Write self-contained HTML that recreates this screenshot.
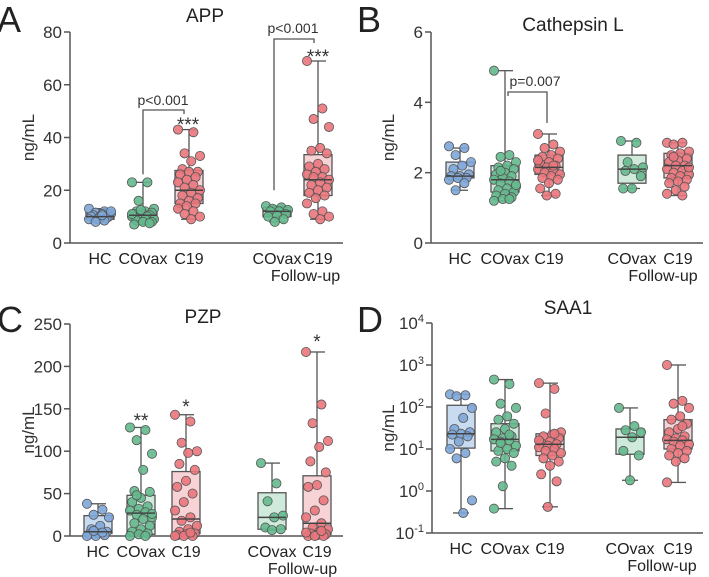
<!DOCTYPE html>
<html><head><meta charset="utf-8">
<style>
html,body{margin:0;padding:0;background:#fff;}
svg{display:block;font-family:"Liberation Sans",Arial,sans-serif;}
</style></head>
<body>
<svg id="fig" width="709" height="577" viewBox="0 0 709 577" xmlns="http://www.w3.org/2000/svg"></svg>
<script>
// ===== Data =====
const categories = ["HC","COvax","C19","COvax","C19"];
const groupColors = ["blue","green","red","green","red"];
// box stats per group: [min, q1, median, q3, max]
const appBoxes = [[8,9,10,11.5,13],[7,9,10.5,12,23],[9,15,20,27.5,43],[8,10,12,13.5,14],[9,18,24,33.5,69]];
const appPoints = [
 [13,12,11.5,11,11,10.5,10,10,10,9.5,9,9,8.5,8,12,10.5],
 [23,23,16,13,12,12,11.5,11,11,10.5,10.5,10,10,9.5,9,9,8.5,8,8,7,7.5,12.5,11],
 [43,42,34,33,31,28,27,27,26,25,24,23,22,21,20,19,18,17,16,15,15,14,13,12,11,10,9],
 [14,13.5,13,12.5,12,12,11,10.5,10,9,8],
 [69,51,47,44,36,35,34,30,29,28,27,26,25,25,24,23,22,21,20,19,18,17,15,12,11,10,9]
];
const catBoxes = [[1.5,1.85,1.9,2.3,2.7],[1.2,1.45,1.8,2.2,4.9],[1.35,1.95,2.15,2.5,3.1],[1.55,1.7,2.1,2.5,2.9],[1.35,1.85,2.2,2.55,2.85]];
const catPoints = [
 [2.75,2.7,2.5,2.3,2.2,2.1,1.95,1.9,1.9,1.85,1.85,1.8,1.7,1.5],
 [4.9,2.5,2.45,2.3,2.2,2.15,2.1,2.0,1.95,1.9,1.85,1.8,1.75,1.7,1.6,1.55,1.5,1.45,1.4,1.35,1.3,1.25,1.2,1.25,2.05,1.65],
 [3.1,2.8,2.7,2.6,2.5,2.45,2.4,2.3,2.25,2.2,2.15,2.1,2.05,2.0,1.95,1.9,1.85,1.8,1.7,1.55,1.4,1.35,2.35,2.2],
 [2.9,2.85,2.3,2.15,2.1,2.05,1.9,1.55,1.55],
 [2.85,2.85,2.8,2.6,2.55,2.5,2.4,2.35,2.3,2.2,2.2,2.1,2.05,2.0,1.95,1.9,1.85,1.8,1.75,1.7,1.6,1.5,1.4,1.35,2.45,2.15]
];
const pzpBoxes = [[0,3,5,24,38],[0,2,27,48,128],[0,3,20,76,143],[7,8,22,51,86],[0,2,15,71,217]];
const pzpPoints = [
 [38,31,25,22,12,8,5,3,2,1,0,0,4,6],
 [128,125,113,97,78,53,52,45,40,35,32,30,28,25,22,20,15,12,8,5,3,2,0,0,48,26],
 [143,135,110,100,98,85,78,65,58,50,40,30,22,18,12,8,5,3,2,1,0,0,0,4],
 [86,62,41,24,22,10,8,7],
 [217,155,133,112,105,88,75,60,58,42,30,22,15,10,8,5,3,2,1,0,0,0,4,6]
];
const saaBoxes = [[0.3,10.5,23,110,200],[0.38,9,17,40,450],[0.42,7,13,23,370],[1.8,7.5,19,30,95],[1.6,10,16,50,1000]];
const saaPoints = [
 [200,190,180,95,55,30,25,23,22,20,15,10,8,6,0.6,0.3],
 [450,350,120,95,60,50,40,30,25,20,18,17,16,15,12,10,9,8,6,5,4,1.3,0.38,22,14],
 [370,270,70,25,22,20,18,15,14,13,12,11,10,9,8,7,6,5,4,2.5,1.7,0.42,16,23],
 [95,35,28,25,19,9,7,1.8],
 [1000,140,120,95,60,50,40,30,25,20,18,17,16,15,13,12,10,9,8,7,6,5,1.6,35]
];
const appTicks = [0,20,40,60,80];
const catTicks = [0,2,4,6];
const pzpTicks = [0,50,100,150,200,250];
const saaTicks = [-1,0,1,2,3,4];

// ===== Drawing =====
const NS = "http://www.w3.org/2000/svg";
const svg = document.getElementById('fig');
const PAL = {blue:{pt:"#7ea6d8",box:"#c9dbf1"},green:{pt:"#64b98d",box:"#cfeadb"},red:{pt:"#e9767c",box:"#f8d3d5"}};
const AX = "#555";
function mk(tag, attrs, parent, text){
  const e = document.createElementNS(NS, tag);
  for (const k in attrs) e.setAttribute(k, attrs[k]);
  if (text !== undefined) e.textContent = text;
  (parent || svg).appendChild(e);
  return e;
}

function panel(cfg){
  const g = mk('g', {});
  
  
  const y = cfg.scale;
  const L = mk('text', {x:cfg.ox-3, y:cfg.letterY, 'font-size':36, fill:'#222'}, g, cfg.letter);
  
  
  const T = mk('text', {x:cfg.titleX, y:cfg.titleY, 'font-size':19, fill:'#222', 'text-anchor':'middle'}, g, cfg.title);
  
  
  const ya = mk('line', {x1:cfg.axX, x2:cfg.axX, y1:cfg.yTop, y2:cfg.yBot, stroke:AX, 'stroke-width':1.5}, g);
  
  
  const xa = mk('line', {x1:cfg.axX, x2:cfg.axEnd, y1:cfg.yBot, y2:cfg.yBot, stroke:AX, 'stroke-width':1.5}, g);
  
  
  cfg.ticks.forEach(t => {
    const ty = cfg.tickPos(t);
    mk('line', {x1:cfg.axX-6, x2:cfg.axX, y1:ty, y2:ty, stroke:AX, 'stroke-width':1.5}, g);
    const tl = mk('text', {x:cfg.axX-8, y:ty+6, 'font-size':17, fill:'#333', 'text-anchor':'end'}, g);
    
    
    if (cfg.log){
      mk('tspan', {}, tl, '10');
      mk('tspan', {dy:-7, 'font-size':11}, tl, String(t));
    } else tl.textContent = String(t);
  });
  const yt = mk('text', {transform:`translate(${cfg.ox+34},${(cfg.yTop+cfg.yBot)/2}) rotate(-90)`, 'font-size':17, fill:'#333', 'text-anchor':'middle'}, g, 'ng/mL');
  
  
  categories.forEach((c, i) => {
    const cx = cfg.xs[i];
    const col = PAL[groupColors[i]];
    const b = cfg.boxes[i];
    const hw = 14;
    const gg = mk('g', {}, g);
    
    
    mk('rect', {x:cx-hw, y:y(b[3]), width:2*hw, height:y(b[1])-y(b[3]), fill:col.box, stroke:AX, 'stroke-width':1.3}, gg);
    mk('line', {x1:cx, x2:cx, y1:y(b[4]), y2:y(b[3]), stroke:AX, 'stroke-width':1.3}, gg);
    mk('line', {x1:cx, x2:cx, y1:y(b[1]), y2:y(b[0]), stroke:AX, 'stroke-width':1.3}, gg);
    [b[0], b[4]].forEach(v => mk('line', {x1:cx-8, x2:cx+8, y1:y(v), y2:y(v), stroke:AX, 'stroke-width':1.3}, gg));
    cfg.points[i].forEach((v, j) => {
      const dx = (((j * 7) % 11) - 5) / 5 * (hw - 3);
      const p = mk('circle', {cx:cx+dx, cy:y(v), r:4.6, fill:col.pt, stroke:'#555', 'stroke-width':0.8, 'fill-opacity':0.9}, gg);
      
      
    });
    mk('line', {x1:cx-hw, x2:cx+hw, y1:y(b[2]), y2:y(b[2]), stroke:'#444', 'stroke-width':1.5}, gg);
    const lab = mk('text', {x:cx, y:cfg.yBot+21, 'font-size':16, fill:'#222', 'text-anchor':'middle'}, g, c);
    
    
  });
  const fu = mk('text', {x:(cfg.xs[3]+cfg.xs[4])/2+8, y:cfg.yBot+38, 'font-size':16, fill:'#222', 'text-anchor':'middle'}, g, 'Follow-up');
  
  
  return g;
}
function linY(v0, v1, top, bot){ return v => bot - (v - v0) / (v1 - v0) * (bot - top); }

const yA = linY(0, 80, 32, 243);
const gA = panel({name:'app', letter:'A', title:'APP', ox:0, letterY:32, titleX:205, titleY:22, axX:70, axEnd:343, yTop:32, yBot:243,
  ticks:appTicks, tickPos:yA, scale:yA, xs:[100,143,189,277,318], boxes:appBoxes, points:appPoints});
const yB = linY(0, 6, 32, 243);
const gB = panel({name:'cathepsin-l', letter:'B', title:'Cathepsin L', ox:360, letterY:32, titleX:573, titleY:31, axX:431, axEnd:703, yTop:32, yBot:243,
  ticks:catTicks, tickPos:yB, scale:yB, xs:[460,505,549,632,678], boxes:catBoxes, points:catPoints});
const yC = linY(0, 250, 324, 536);
const gC = panel({name:'pzp', letter:'C', title:'PZP', ox:0, letterY:332, titleX:203, titleY:323, axX:70, axEnd:343, yTop:324, yBot:536,
  ticks:pzpTicks, tickPos:yC, scale:yC, xs:[98,141,186,272,317], boxes:pzpBoxes, points:pzpPoints});
const yDl = linY(-1, 4, 323, 533);
const yD = v => yDl(Math.log10(v));
const gD = panel({name:'saa1', letter:'D', title:'SAA1', ox:360, letterY:332, titleX:568, titleY:314, axX:432, axEnd:703, yTop:323, yBot:533,
  ticks:saaTicks, tickPos:yDl, scale:yD, xs:[461,505,550,630,678], boxes:saaBoxes, points:saaPoints, log:true});

function bracket(pts, g){
  const pl = mk('polyline', {points:pts, fill:'none', stroke:AX, 'stroke-width':1.3}, g);
  
  
}
function note(x, y, s, size, g, name){
  const t = mk('text', {x:x, y:y, 'font-size':size, fill:'#333', 'text-anchor':'middle'}, g, s);
  
  
}
bracket(`143,${yA(26)} 143,110 184,110 184,114`, gA);
note(163, 105, 'p<0.001', 14, gA, 'p-value-label');
note(188, 131, '***', 19, gA, 'significance-stars');
bracket(`274,${yA(20)} 274,39 314,39 314,43`, gA);
note(293, 33, 'p<0.001', 14, gA, 'p-value-label');
note(318, 63, '***', 19, gA, 'significance-stars');
bracket(`508,96 508,92 547,92 547,123`, gB);
note(535, 86, 'p=0.007', 14, gB, 'p-value-label');
note(141, 427, '**', 19, gC, 'significance-stars');
note(186, 413, '*', 19, gC, 'significance-stars');
note(317, 348, '*', 19, gC, 'significance-stars');
</script>
</body></html>
